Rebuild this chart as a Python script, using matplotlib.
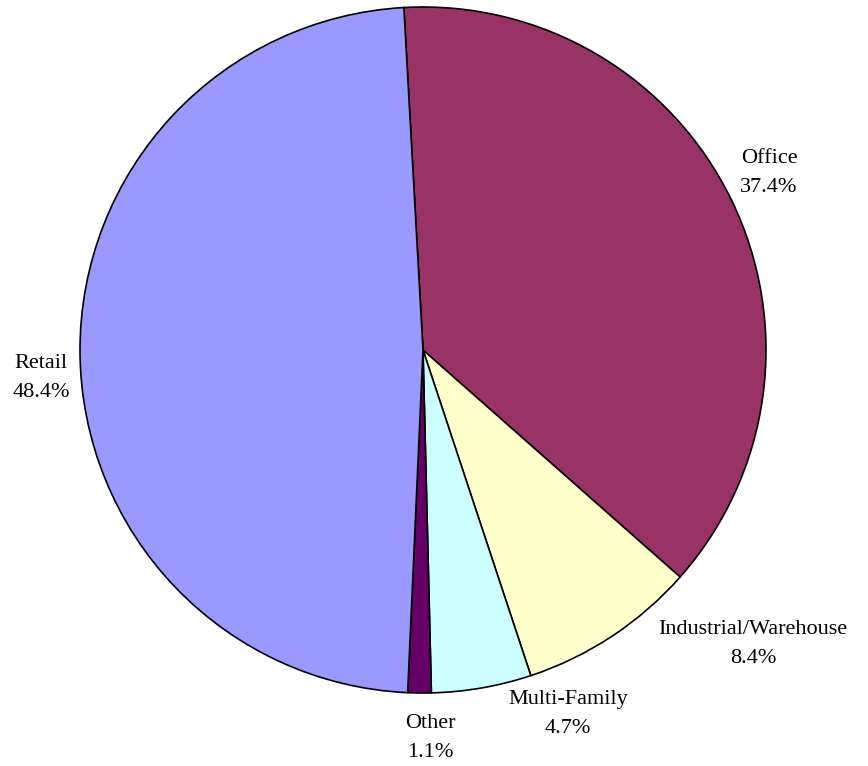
import matplotlib
matplotlib.use("Agg")
import matplotlib.pyplot as plt

# share of portfolio by property type, clockwise from the top
categories = ["Office", "Industrial/Warehouse", "Multi-Family", "Other", "Retail"]
shares = [37.4, 8.4, 4.7, 1.1, 48.4]
colors = ["#993366", "#FFFFCC", "#CCFFFF", "#660066", "#9999FF"]

# label centres in pixel space (origin bottom-left)
label_xy = [(769, 593), (753, 122), (568, 52), (430, 28), (41, 388)]

W, H = 868, 766
fig = plt.figure(figsize=(W / 100, H / 100), dpi=100)
ax = fig.add_axes([0, 0, 1, 1])
ax.set_xlim(0, W)
ax.set_ylim(0, H)
ax.set_aspect("equal")
ax.axis("off")

ax.pie(shares, colors=colors, startangle=93.2, counterclock=False,
       center=(423, 416), radius=343,
       wedgeprops=dict(edgecolor="black", linewidth=1.2))
ax.set_xlim(0, W)
ax.set_ylim(0, H)

for name, val, (x, y) in zip(categories, shares, label_xy):
    ax.text(x, y, f"{name}\n{val}%", ha="center", va="center",
            fontsize=16, family="Liberation Serif", linespacing=1.7,
            color="black")

fig.savefig("out.png", dpi=100, facecolor="white")
